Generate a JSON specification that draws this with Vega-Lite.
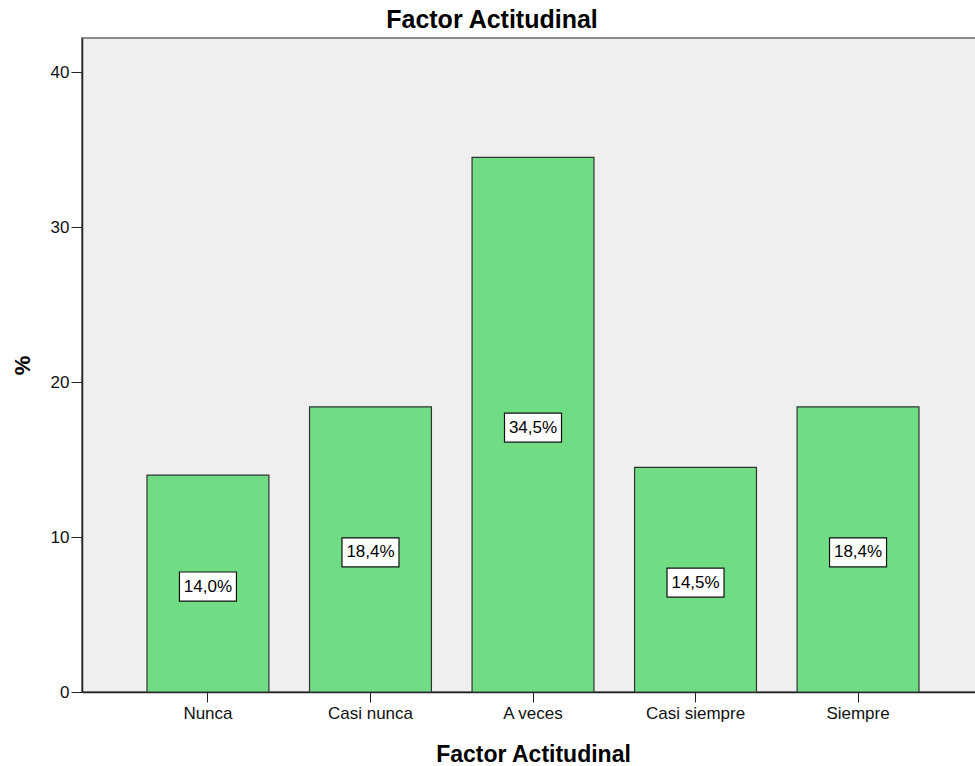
{
  "$schema": "https://vega.github.io/schema/vega-lite/v6.json",
  "autosize": "none",
  "padding": {"left": 82, "top": 38, "right": 0, "bottom": 74},
  "width": 902,
  "height": 654,
  "background": "white",
  "config": {
    "font": "Liberation Sans",
    "view": {"fill": "#efefef", "stroke": "#8a8a8a", "strokeWidth": 2}
  },
  "title": {
    "text": "Factor Actitudinal",
    "fontSize": 25,
    "fontWeight": "bold",
    "color": "#000000",
    "anchor": "middle",
    "baseline": "alphabetic",
    "offset": 10,
    "dx": -41,
    "dy": 25
  },
  "data": {
    "values": [
      {"cat": "Nunca", "pct": 14.0, "label": "14,0%"},
      {"cat": "Casi nunca", "pct": 18.4, "label": "18,4%"},
      {"cat": "A veces", "pct": 34.5, "label": "34,5%"},
      {"cat": "Casi siempre", "pct": 14.5, "label": "14,5%"},
      {"cat": "Siempre", "pct": 18.4, "label": "18,4%"}
    ]
  },
  "transform": [{"calculate": "datum.pct / 2", "as": "mid"}],
  "encoding": {
    "x": {
      "field": "cat",
      "type": "nominal",
      "sort": null,
      "scale": {"paddingInner": 0.25, "paddingOuter": 0.4},
      "axis": {
        "title": "Factor Actitudinal",
        "titleFontSize": 23,
        "titleFontWeight": "bold",
        "titleColor": "#000000",
        "titleBaseline": "alphabetic",
        "titleY": 69,
        "labelAngle": 0,
        "labelFontSize": 17,
        "labelColor": "#111111",
        "labelPadding": 3,
        "tickSize": 10,
        "tickColor": "#222222",
        "domainColor": "#222222",
        "domainWidth": 1.5
      }
    }
  },
  "layer": [
    {
      "mark": {"type": "bar", "fill": "#70dc84", "stroke": "#333333", "strokeWidth": 1.2},
      "encoding": {
        "y": {
          "field": "pct",
          "type": "quantitative",
          "scale": {"domain": [0, 42.2], "nice": false},
          "axis": {
            "title": "%",
            "titleFontSize": 22,
            "titleFontWeight": "bold",
            "titleColor": "#000000",
            "titleAngle": 270,
            "titleX": -60,
            "titleY": 327,
            "titleAlign": "center",
            "titleBaseline": "middle",
            "values": [0, 10, 20, 30, 40],
            "grid": false,
            "labelFontSize": 17,
            "labelColor": "#111111",
            "labelPadding": 2,
            "tickSize": 11,
            "tickColor": "#222222",
            "domainColor": "#222222",
            "domainWidth": 1.5
          }
        }
      }
    },
    {
      "mark": {
        "type": "point",
        "shape": "M-1,-0.51H1V0.51H-1Z",
        "size": 3249,
        "filled": true,
        "fill": "white",
        "stroke": "#111111",
        "strokeWidth": 1.2,
        "opacity": 1,
        "yOffset": 3
      },
      "encoding": {
        "y": {"field": "mid", "type": "quantitative"}
      }
    },
    {
      "mark": {
        "type": "text",
        "fontSize": 17,
        "color": "#000000",
        "baseline": "middle",
        "align": "center",
        "yOffset": 3
      },
      "encoding": {
        "y": {"field": "mid", "type": "quantitative"},
        "text": {"field": "label"}
      }
    }
  ]
}
